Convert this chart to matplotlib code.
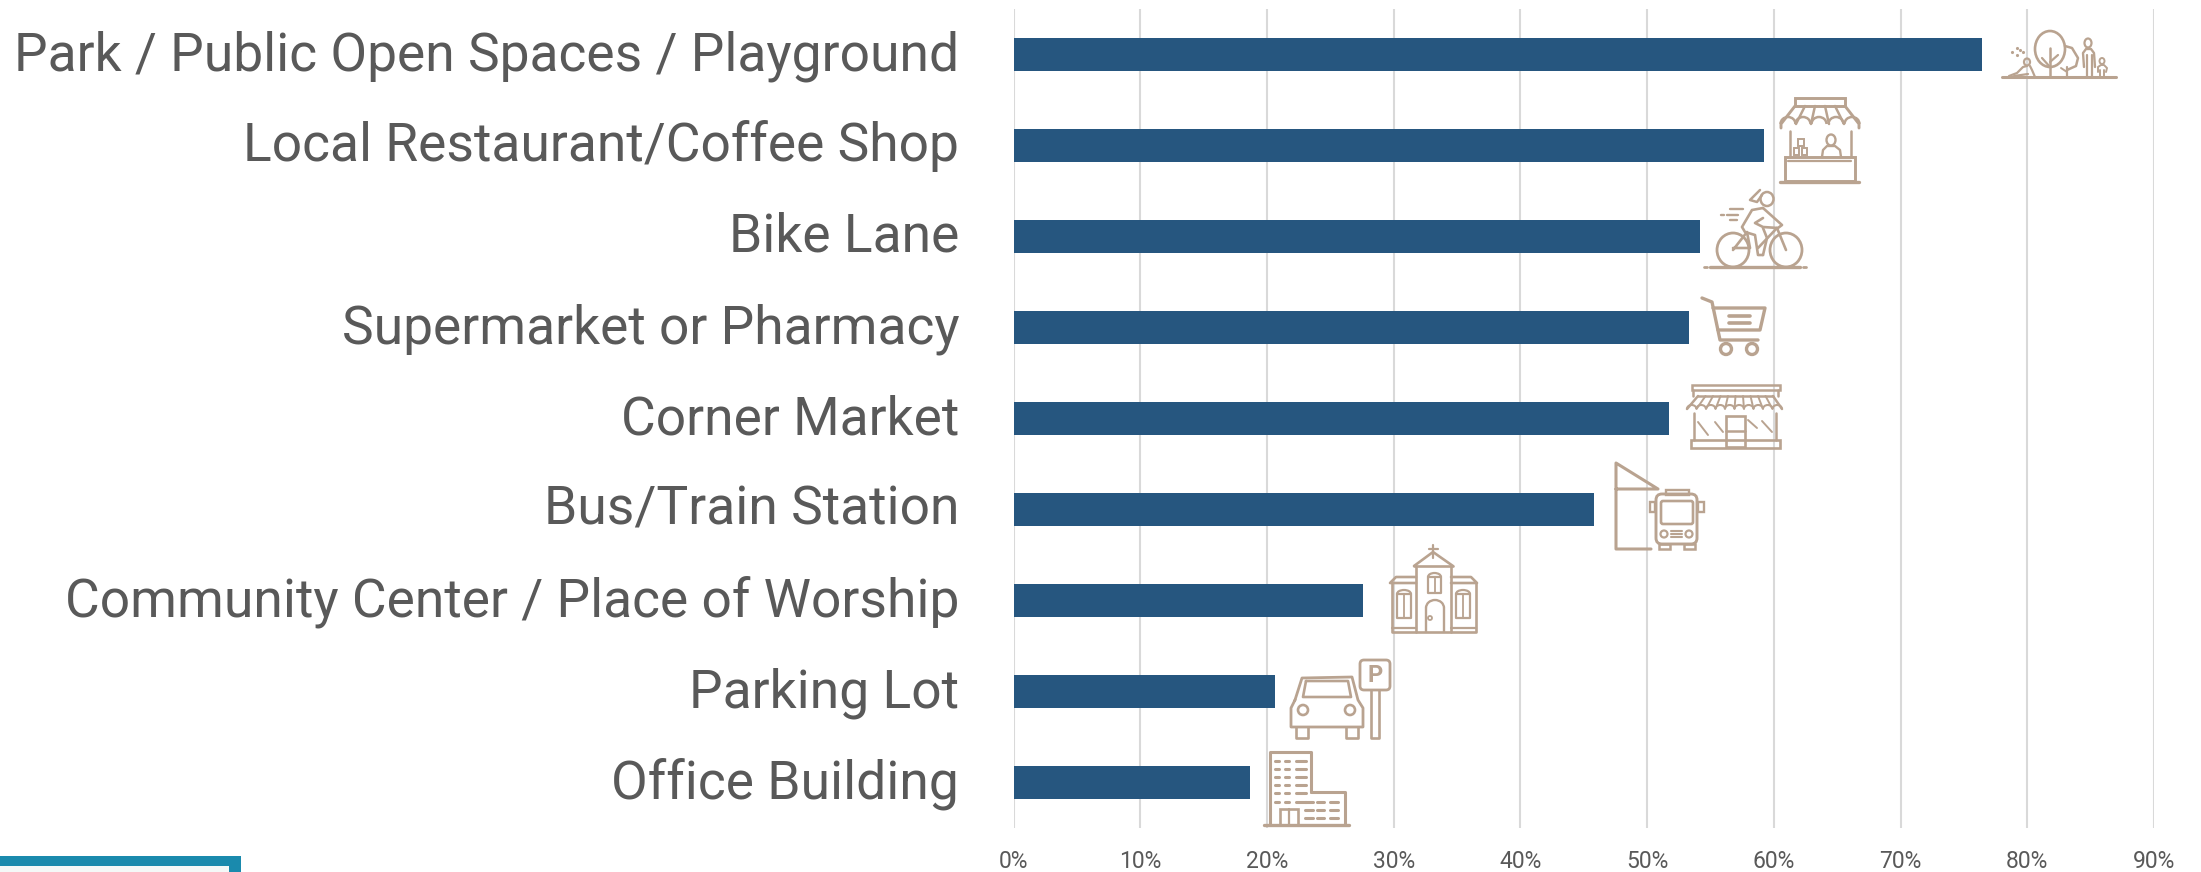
import matplotlib
matplotlib.use('Agg')
import matplotlib.pyplot as plt
from matplotlib.patches import Rectangle, Ellipse, FancyBboxPatch, Arc
from matplotlib.transforms import ScaledTranslation

plt.rcParams['font.family'] = ['Roboto', 'DejaVu Sans']

categories = ['Park / Public Open Spaces / Playground', 'Local Restaurant/Coffee Shop', 'Bike Lane',
              'Supermarket or Pharmacy', 'Corner Market', 'Bus/Train Station',
              'Community Center / Place of Worship', 'Parking Lot', 'Office Building']
values = [76.4, 59.2, 54.2, 53.3, 51.7, 45.8, 27.6, 20.6, 18.7]
xticks = [0, 10, 20, 30, 40, 50, 60, 70, 80, 90]
xlabels = ['0%', '10%', '20%', '30%', '40%', '50%', '60%', '70%', '80%', '90%']

W, H = 2201, 872
BAR = '#26567F'
GREY = '#595959'
ICON = '#B9A390'

fig = plt.figure(figsize=(W / 100, H / 100), dpi=100)
# main chart axes, placed to the pixel
left, right, top, bottom = 1013.5, 2154, 9, 828
ax = fig.add_axes([left / W, 1 - bottom / H, (right - left) / W, (bottom - top) / H])
ax.barh(range(len(values)), values, height=0.352, color=BAR, zorder=3)
ax.set_xlim(0, 90)
ax.set_ylim(len(values) - 0.5, -0.5)
ax.set_xticks(xticks)
ax.set_xticklabels(xlabels, fontsize=16.5, color=GREY)
ax.set_yticks(range(len(values)))
ax.set_yticklabels(categories, fontsize=38.4, color=GREY)
ax.tick_params(axis='x', length=0, pad=16)
ax.tick_params(axis='y', length=0, pad=39)
# labels sit a few pixels higher than the bar centres
for lab in ax.get_yticklabels():
    lab.set_transform(lab.get_transform() + ScaledTranslation(0, 0.045, fig.dpi_scale_trans))
ax.grid(axis='x', color='#D9D9D9', linewidth=1.5, zorder=0)
for s in ax.spines.values():
    s.set_visible(False)

# overlay in image pixels for the decorations
ov = fig.add_axes([0, 0, 1, 1])
ov.set_xlim(0, W)
ov.set_ylim(H, 0)
ov.axis('off')
ov.patch.set_alpha(0)


def line(xs, ys, lw=2.1):
    ov.plot(xs, ys, color=ICON, lw=lw, solid_capstyle='round', solid_joinstyle='round')


def rect(x0, y0, x1, y1, lw=2.1):
    ov.add_patch(Rectangle((x0, y0), x1 - x0, y1 - y0, fill=False, ec=ICON, lw=lw))


def ell(cx, cy, w, h, lw=2.1):
    ov.add_patch(Ellipse((cx, cy), w, h, fill=False, ec=ICON, lw=lw))


def arc(cx, cy, w, h, t1, t2, lw=2.1):
    ov.add_patch(Arc((cx, cy), w, h, theta1=t1, theta2=t2, color=ICON, lw=lw))


def park():
    line([2002, 2116], [77, 77], 2.2)
    ell(2050, 49, 30, 36, 1.9)
    line([2050, 2050], [48, 77], 1.8)
    line([2042, 2050], [58, 67], 1.6)
    line([2058, 2050], [55, 62], 1.6)
    line([2065, 2072, 2078, 2076, 2067], [46, 48, 58, 66, 70], 1.8)
    line([2067, 2067], [67, 77], 1.6)
    line([2061, 2067], [68, 72], 1.4)
    ell(2088, 43, 7, 9, 1.6)
    line([2084, 2083, 2086, 2091, 2094, 2095], [67, 53, 49, 49, 53, 67], 1.7)
    line([2087, 2087], [55, 77], 1.6)
    line([2092, 2092], [55, 77], 1.6)
    ell(2102, 61, 5, 6, 1.4)
    line([2098, 2098, 2101, 2104, 2107, 2106], [72, 67, 65, 65, 68, 72], 1.4)
    line([2100, 2100], [70, 77], 1.4)
    line([2104, 2104], [70, 77], 1.4)
    ell(2027, 62, 6, 7, 1.6)
    line([2009, 2017, 2023, 2027], [76, 73, 67, 66], 1.6)
    line([2030, 2032, 2035], [66, 70, 77], 1.6)
    line([2014, 2028], [76, 74], 1.6)
    for x, y in [(2012, 52), (2017, 48), (2023, 52), (2017, 55), (2020, 50)]:
        ov.plot(x, y, '.', color=ICON, ms=2.5)


def stall():
    rect(1795, 98, 1845, 106)
    line([1795, 1781, 1781], [106, 124, 128])
    line([1845, 1859, 1859], [106, 124, 128])
    for a, b in [(1805, 1796), (1815, 1811), (1825, 1829), (1835, 1844)]:
        line([a, b], [106, 124], 1.8)
    for c in [1788, 1803, 1819, 1836, 1852]:
        arc(c, 124, 15, 14, 180, 360, 1.8)
    line([1790, 1790], [131, 157], 1.8)
    line([1851, 1851], [131, 157], 1.8)
    rect(1785, 157, 1855, 181)
    line([1788, 1851], [161, 161], 1.6)
    line([1780, 1859], [182, 182], 2.4)
    ell(1831, 140, 9, 11, 1.7)
    line([1822, 1823, 1827, 1835, 1840, 1841], [157, 150, 146, 146, 150, 157], 1.7)
    rect(1798, 139, 1804, 146, 1.4)
    rect(1794, 148, 1799, 155, 1.4)
    rect(1802, 148, 1807, 155, 1.4)


def bike():
    ell(1733, 250, 32, 34, 2)
    ell(1786, 250, 32, 34, 2)
    line([1710, 1800], [267, 267], 2.4)
    line([1704, 1707], [267, 267], 2)
    line([1803, 1806], [267, 267], 2)
    ell(1767, 199, 13, 14, 1.8)
    line([1760, 1750, 1757, 1762], [190, 200, 202, 195], 1.8)
    line([1763, 1752, 1742, 1745, 1755, 1758, 1763], [208, 210, 227, 232, 235, 255, 255], 1.9)
    line([1763, 1782, 1778, 1763, 1755, 1763], [208, 225, 228, 227, 223, 218], 1.9)
    line([1763, 1767, 1763], [228, 238, 255], 1.9)
    line([1733, 1747, 1750, 1733], [250, 232, 248, 248], 1.9)
    line([1777, 1786], [228, 250], 1.9)
    line([1777, 1758], [228, 248], 1.9)
    for x0, x1, y in [(1730, 1743, 209), (1721, 1724, 215), (1727, 1738, 215), (1730, 1737, 220)]:
        line([x0, x1], [y, y], 1.7)


def cart():
    line([1702, 1712, 1720, 1758], [298, 302, 340, 340], 2.4)
    line([1713, 1765, 1760, 1718], [308, 308, 330, 330], 2.4)
    line([1729, 1750], [316, 316], 2.6)
    line([1729, 1750], [323, 323], 2.6)
    ell(1726, 349, 11, 11, 2.4)
    ell(1752, 349, 11, 11, 2.4)


def market():
    rect(1692, 385, 1780, 390, 1.8)
    line([1693, 1693], [390, 396], 1.8)
    line([1778, 1778], [390, 396], 1.8)
    line([1698, 1773], [396, 396], 1.8)
    line([1698, 1687], [396, 409], 1.8)
    line([1773, 1782], [396, 409], 1.8)
    for i in range(1, 10):
        xt = 1698 + i * 7.5
        xb = 1687 + i * 9.5
        line([xt, xb], [396, 409], 1.4)
    for i in range(10):
        arc(1691.7 + i * 9.5, 409, 9.5, 8, 180, 360, 1.5)
    line([1694, 1694], [413, 440], 1.8)
    line([1776, 1776], [413, 440], 1.8)
    rect(1691, 440, 1780, 448, 1.9)
    rect(1726, 416, 1745, 447, 1.9)
    line([1726, 1745], [431, 431], 1.8)
    for x0, y0, x1, y1 in [(1698, 422, 1708, 435), (1715, 422, 1723, 432), (1748, 420, 1757, 428), (1762, 421, 1772, 432)]:
        line([x0, x1], [y0, y1], 1.4)


def bus():
    line([1651, 1616, 1616, 1658, 1616], [549, 549, 463, 489, 489], 2.2)
    ov.add_patch(FancyBboxPatch((1656, 494), 41, 50, boxstyle='round,pad=0,rounding_size=6', fill=False, ec=ICON, lw=2.1))
    ov.add_patch(FancyBboxPatch((1661, 501), 32, 23, boxstyle='round,pad=0,rounding_size=2', fill=False, ec=ICON, lw=1.9))
    rect(1666, 490, 1689, 495, 1.7)
    ell(1664, 534, 7, 7, 1.6)
    ell(1689, 534, 7, 7, 1.6)
    for y in [531, 534, 537]:
        line([1671, 1682], [y, y], 1.5)
    rect(1650, 502, 1655, 512, 1.7)
    rect(1698, 502, 1704, 512, 1.7)
    rect(1659, 544, 1670, 549, 1.8)
    rect(1684, 544, 1695, 549, 1.8)


def church():
    line([1433, 1433], [545, 558], 1.6)
    line([1429, 1438], [549, 549], 1.6)
    line([1414, 1433, 1453], [566, 552, 566], 1.9)
    line([1416, 1416], [566, 632], 1.9)
    line([1451, 1451], [566, 632], 1.9)
    line([1414, 1453], [566, 566], 1.9)
    line([1416, 1396, 1390, 1416], [577, 577, 583, 583], 1.9)
    line([1451, 1471, 1477, 1451], [577, 577, 583, 583], 1.9)
    line([1392, 1392, 1476, 1476], [583, 632, 632, 583], 1.9)
    line([1392, 1416], [628, 628], 1.6)
    line([1451, 1476], [628, 628], 1.6)
    for x0, x1, y0, y1 in [(1397, 1411, 594, 618), (1456, 1470, 594, 618), (1428, 1441, 577, 593)]:
        line([x0, x0, x1, x1, x0], [y0, y1, y1, y0, y0], 1.6)
        arc((x0 + x1) / 2, y0, x1 - x0, 8, 180, 360, 1.6)
        line([(x0 + x1) / 2] * 2, [y0, y1], 1.3)
    line([1426, 1426], [608, 632], 1.7)
    line([1444, 1444], [608, 632], 1.7)
    arc(1435, 608, 18, 16, 180, 360, 1.7)
    ell(1430, 618, 4, 4, 1.3)


def parking():
    line([1295, 1302, 1352, 1358, 1363, 1363, 1291, 1291, 1295],
         [700, 678, 677, 700, 708, 727, 727, 708, 700], 2)
    line([1306, 1303, 1351, 1348, 1306], [681, 697, 697, 681, 681], 1.9)
    ell(1303, 710, 10, 10, 1.9)
    ell(1350, 710, 10, 10, 1.9)
    line([1296, 1296, 1308, 1308], [727, 738, 738, 727], 1.9)
    line([1346, 1346, 1358, 1358], [727, 738, 738, 727], 1.9)
    ov.add_patch(FancyBboxPatch((1360, 660), 30, 30, boxstyle='round,pad=0,rounding_size=4', fill=False, ec=ICON, lw=2))
    line([1371, 1371, 1379, 1379], [690, 738, 738, 690], 1.9)
    ov.text(1375, 675, 'P', color=ICON, fontsize=17, fontweight='bold', ha='center', va='center')


def office():
    line([1264, 1349], [825, 825], 2.4)
    line([1270, 1270, 1311, 1311], [825, 752, 752, 792], 2.2)
    line([1311, 1345, 1345], [792, 792, 825], 2.2)
    rect(1280, 809, 1298, 825, 1.9)
    line([1289, 1289], [809, 825], 1.6)
    for y in [761, 769, 777, 785, 793, 802]:
        line([1275, 1279], [y, y], 2.2)
        line([1285, 1289], [y, y], 2.2)
        line([1296, 1306], [y, y], 2.2)
    for y in [802, 810, 818]:
        line([1305, 1313], [y, y], 2.2)
        line([1317, 1324], [y, y], 2.2)
        line([1330, 1338], [y, y], 2.2)


for draw in [park, stall, bike, cart, market, bus, church, parking, office]:
    draw()

# teal frame cut off at the bottom left corner
ov.add_patch(Rectangle((0, 856), 241, 20, fc='#1A8AAD', ec='none'))
ov.add_patch(Rectangle((0, 866), 229, 10, fc='#F4F8F7', ec='none'))
ov.set_xlim(0, W)
ov.set_ylim(H, 0)

fig.savefig('out.png', dpi=100)
